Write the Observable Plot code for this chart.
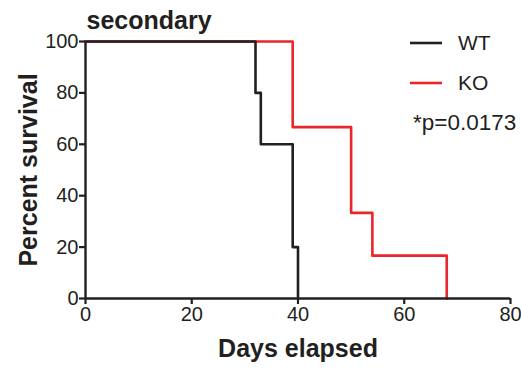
<!DOCTYPE html>
<html>
<head>
<meta charset="utf-8">
<script src="https://cdn.jsdelivr.net/npm/d3@7"></script>
<script src="https://cdn.jsdelivr.net/npm/@observablehq/plot@0.6"></script>
<style>
  html, body { margin: 0; padding: 0; background: #fff; }
  #chart { width: 521px; height: 368px; }
</style>
</head>
<body>
<div id="chart"></div>
<script>
// Data (Kaplan–Meier steps)
const wtDays = [0, 32, 33, 39, 40];
const wtSurvival = [100, 80, 60, 20, 0];
const koDays = [0, 39, 50, 54, 68];
const koSurvival = [100, 66.67, 33.33, 16.67, 0];
const xTicks = [0, 20, 40, 60, 80];
const yTicks = [0, 20, 40, 60, 80, 100];
const seriesNames = ["WT", "KO"];
const seriesColors = ["#231f20", "#e8262b"];
const titleText = "secondary";
const xLabel = "Days elapsed";
const yLabel = "Percent survival";
const pText = "*p=0.0173";

const wt = wtDays.map((d, i) => ({day: d, survival: wtSurvival[i]}));
const ko = koDays.map((d, i) => ({day: d, survival: koSurvival[i]}));

const font = "'Liberation Sans', Arial, sans-serif";
const ink = "#231f20";

const plot = Plot.plot({
  width: 521,
  height: 368,
  marginLeft: 85,
  marginRight: 11,
  marginTop: 41,
  marginBottom: 70,
  style: {fontFamily: font, color: ink, background: "#fff", overflow: "visible"},
  x: {domain: [0, 80]},
  y: {domain: [0, 100]},
  marks: [
    Plot.line(ko, {x: "day", y: "survival", curve: "step-after", stroke: seriesColors[1], strokeWidth: 2.6}),
    Plot.line(wt, {x: "day", y: "survival", curve: "step-after", stroke: seriesColors[0], strokeWidth: 2.6}),
    Plot.ruleY([0], {stroke: ink, strokeWidth: 2.4}),
    Plot.ruleX([0], {stroke: ink, strokeWidth: 2.4}),
    Plot.axisX({ticks: xTicks, tickSize: 6, tickPadding: 2, fontSize: 20, stroke: ink, strokeWidth: 2.2, label: null, fill: ink}),
    Plot.axisY({ticks: yTicks, tickSize: 6, tickPadding: 1, fontSize: 20, stroke: ink, strokeWidth: 2.2, label: null, fill: ink}),
    Plot.text([xLabel], {frameAnchor: "bottom", lineAnchor: "middle", dy: 50, fontSize: 25, fontWeight: "bold", fill: ink}),
    Plot.text([yLabel], {frameAnchor: "left", textAnchor: "middle", lineAnchor: "middle", dx: -57, rotate: -90, fontSize: 25, fontWeight: "bold", fill: ink}),
    Plot.text([titleText], {frameAnchor: "top-left", textAnchor: "start", lineAnchor: "middle", dx: 1, dy: -21, fontSize: 25, fontWeight: "bold", fill: ink})
  ]
});

// Legend
const svg = d3.select(plot);
const legendY = [43, 83];
seriesNames.forEach((name, i) => {
  svg.append("line")
    .attr("x1", 410).attr("x2", 442)
    .attr("y1", legendY[i]).attr("y2", legendY[i])
    .attr("stroke", seriesColors[i]).attr("stroke-width", 2.6);
  svg.append("text")
    .attr("x", 458).attr("y", legendY[i]).attr("dy", "0.35em")
    .attr("text-anchor", "start")
    .attr("font-size", 21).attr("font-family", font).attr("fill", ink)
    .text(name);
});
svg.append("text")
  .attr("x", 413).attr("y", 122).attr("dy", "0.35em")
  .attr("text-anchor", "start")
  .attr("font-size", 22.5).attr("font-family", font).attr("fill", ink)
  .text(pText);

document.getElementById("chart").appendChild(plot);
</script>
</body>
</html>
